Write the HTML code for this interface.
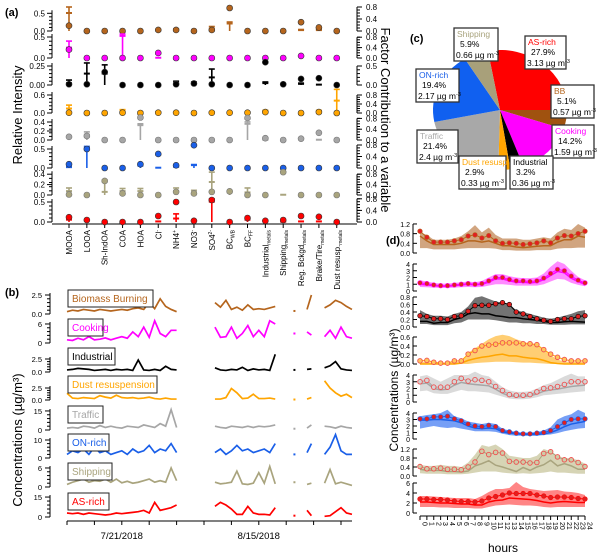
<!DOCTYPE html>
<html><head><meta charset="utf-8"><style>
html,body{margin:0;padding:0;background:#fff;}
svg{display:block;font-family:"Liberation Sans",sans-serif;}
</style></head><body>
<svg id="chart" width="600" height="559" viewBox="0 0 600 559" xmlns="http://www.w3.org/2000/svg"></svg>
<script>
// ---------- DATA ----------
const aCategories=['MOOA','LOOA','Sh-IndOA','COA','HOA','Cl','NH4','NO3','SO4','BC','BC','Industrial','Shipping','Reg. Bckgd','Brake/Tire','Dust resusp.'];
const aSubs=['','','','','','-','+','-','2-','WB','FF','metals','metals','metals','metals','metals'];
const factorNames=['Biomass Burning','Cooking','Industrial','Dust resuspension','Traffic','ON-rich','Shipping','AS-rich'];
const aDots=[
[0.15,0,0,0,0,0.03,0.03,0,0.03,0.65,0,0,0,0.25,0.1,0],
[0.2,0,0,0,0,0.12,0,0,0,0,0,0,0,0.05,0,0],
[0.01,0.01,0.17,0,0,0,0.01,0.02,0.01,0,0,0.3,0.01,0.08,0.09,0],
[0.01,0,0,0.01,0,0.01,0.01,0,0.01,0.01,0.01,0.03,0,0,0.03,0],
[0.07,0.09,0,0,0.5,0,0,0,0,0,0.49,0.04,0,0.03,0.16,0],
[0.1,0.5,0,0,0.1,0.37,0.07,0.6,0,0,0,0,0,0,0,0],
[0.01,0,0.27,0.03,0,0,0.06,0.03,0.06,0.07,0,0,0.44,0,0,0],
[0.12,0.05,0,0,0,0.15,0.5,0.03,0.55,0,0.1,0.03,0.05,0.15,0.13,0]];
const aErr=[
[0.8,0,0,0,0,0.05,0.07,0,0.15,0.3,0,0,0,0.05,0.05,0],
[0.65,0,0,0.92,0,0,0,0,0,0,0,0,0,0.08,0,0],
[0.13,0.58,0.53,0,0,0,0.1,0.08,0.42,0,0,0.08,0,0.05,0,0],
[0.35,0,0,0.15,0.05,0.05,0,0,0.05,0,0.05,0.12,0,0,0.12,1.05],
[0,0.3,0,0,0.6,0,0,0,0,0,0.67,0.02,0,0,0,0],
[0.05,0.75,0,0,0.1,0,0.05,0.12,0,0,0,0,0,0,0,0],
[0.27,0,0.58,0.25,0.25,0,0.27,0.18,0.88,0.15,0.27,0,0,0,0,0],
[0.12,0,0,0,0,0,0.28,0.05,0.8,0,0.12,0.04,0,0,0,0]];
const aContrib=[
[0.6,0,0,0,0,0.04,0.05,0,0.08,0.25,0,0,0,0.03,0.03,0],
[0.4,0,0,0.85,0,0.01,0,0,0,0,0,0,0,0.06,0,0],
[0.05,0.3,0.3,0,0,0,0.05,0.05,0.2,0,0,0.05,0,0.03,0.01,0],
[0.2,0,0,0.1,0.02,0.03,0,0,0.02,0,0.03,0.08,0,0,0.08,0.55],
[0,0.2,0,0,0.55,0,0,0,0,0,0.6,0.01,0,0,0.01,0],
[0.03,0.7,0,0,0.08,0.01,0.04,0.1,0,0,0,0,0,0,0,0],
[0.15,0,0.12,0.15,0.15,0,0.15,0.1,0.5,0.1,0.1,0,0.01,0,0,0],
[0.08,0,0,0,0,0.02,0.12,0.03,0.7,0,0.08,0.02,0.01,0.02,0.02,0]];
const aLeftTicks=[[0,0.5],[0,0.5],[0,0.25],[0,0.6],[0,0.2,0.4],[0,0.5],[0,0.2,0.4],[0,0.5]];
const aLeftTickLabels=[['0.0','0.5'],['0.0','0.5'],['0.00','0.25'],['0.0','0.6'],['0.0','0.2','0.4'],['0.0','0.5'],['0.0','0.2','0.4'],['0.0','0.5']];
const aRightTicks=[[0,0.4,0.8],[0,0.4,0.8],[0,0.5],[0,0.4,0.8],[0,0.4,0.8],[0,0.4,0.8],[0,0.4,0.8],[0,0.4,0.8]];

const tsDays=[0,1,2,3,4,5,6,7,8,9,10,11,12,13,14,15,16,17,18,19,20,27,28,29,30,31,32,33,34,35,36,37,38,41.5,43.8,44.6,47,48,49,50,51,52];
const tsBB=[0.3,0.5,0.4,0.6,0.5,0.4,0.6,0.5,0.4,0.5,0.6,0.5,0.7,0.8,0.6,1.5,0.7,2.0,1.0,0.6,0.3, 1.5,0.9,1.8,0.6,0.9,0.5,1.2,0.6,0.7,0.6,0.8,1.0, 0.4, 0.6,2.5, 0.8,1.2,1.8,1.5,1.0,0.6];
const tsCooking=[1,0.8,1.5,1,2,1,1.2,1.6,1,1.5,2,1.5,3.5,2,5,1.8,7,3,2,4,4, 5,1.8,2,5,1.5,3,5.5,2,4,2,7,6, 3, 3.5,2.5, 2,4,1.5,5,2,1.5];
const tsIndustrial=[0.4,0.5,0.7,0.6,0.5,0.3,0.4,0.5,0.3,0.5,0.4,0.5,0.3,2.3,0.4,0.3,0.5,0.3,1.1,0.5,0.4, 0.8,0.4,0.3,0.5,0.4,0.9,0.3,0.6,0.4,0.5,0.3,3.4, 0.4, 0.5,0.6, 0.8,1.2,2.0,0.6,0.4,0.3];
const tsDust=[1.4,0.4,0.3,0.5,0.4,0.3,0.9,0.6,0.4,1.0,0.5,0.4,0.5,0.3,0.4,0.6,0.3,0.2,0.4,0.2,0.2, 0.2,0.2,0.5,2.4,1.5,0.3,0.4,1.2,0.3,0.3,0.4,0.2, 0.1, 0.2,0.5, 4.0,2.5,1.5,0.8,1.2,0.5];
const tsTraffic=[1.5,2,1.5,3,2.5,1.5,3.5,2,3,2,1.5,3,2.5,2,4,3,2,5,3,16,2, 3,2,1.5,3,2.5,2,3,2,3,2.5,3,4, 1, 1.5,4, 3,2.5,1.5,3,2,1.5];
const tsON=[2,4,3,5,2,6,3,4,2,3,4,2,5,3,4,7,3,5,4,8,3, 3,5,2,4,7,4,5,3,4,5,3,8, 2, 3,8, 2,6,13,4,2,2];
const tsShipping=[0.8,1.5,2,2.5,1.5,2,1.8,2.5,1.5,2.5,1.3,1.8,1.2,1.5,2,2.5,1.5,2,1.5,6,2, 1.5,1,1.2,1.5,5,1,0.8,1.2,4.5,1.2,6.5,1, 1.5, 0.8,1.2, 1.2,5.5,1,1.5,1,0.5];
const tsAS=[3,2.5,3,2,3,2.5,2,1.5,2,3,2.5,3,3.5,4,5,3,11,5,6,7,9, 8,11,9,6,2,2,8,3,2,2,1.5,7, 1, 5,1, 0.5,1,4,7,3,2];
const tsTickLabels=[['0.0','2.5'],['0','6'],['0.0','2.5'],['0.0','2.5'],['0','15'],['0','10'],['0','6'],['0','15']];
const tsTicks=[[0,2.5],[0,6],[0,2.5],[0,2.5],[0,15],[0,10],[0,6],[0,15]];
const dateLabels=['7/21/2018','8/15/2018'];
const dateDays=[10,35];

const pieNames=['AS-rich','BB','Cooking','Industrial','Dust resusp.','Traffic','ON-rich','Shipping'];
const piePct=[27.9,5.1,14.2,3.2,2.9,21.4,19.4,5.9];
const pieConc=['3.13','0.57','1.59','0.36','0.33','2.4','2.17','0.66'];

const hours=[0,1,2,3,4,5,6,7,8,9,10,11,12,13,14,15,16,17,18,19,20,21,22,23,24];
const dMean=[
[0.9,0.65,0.45,0.45,0.45,0.5,0.55,0.7,0.75,0.62,0.72,0.5,0.4,0.42,0.4,0.35,0.38,0.42,0.5,0.42,0.62,0.72,0.7,0.8,0.9],
[1.2,1.1,0.9,0.8,0.8,0.9,1.0,1.1,1.0,1.1,1.5,2.0,2.0,1.7,1.5,1.5,1.4,1.5,1.9,2.6,3.2,3.0,2.2,1.6,1.2],
[0.3,0.28,0.22,0.22,0.2,0.28,0.3,0.42,0.57,0.58,0.58,0.62,0.65,0.6,0.4,0.35,0.28,0.22,0.18,0.15,0.2,0.22,0.22,0.28,0.3],
[0.07,0.08,0.04,0.02,0.02,0.07,0.07,0.22,0.3,0.4,0.42,0.44,0.47,0.47,0.47,0.45,0.45,0.43,0.32,0.22,0.15,0.1,0.07,0.07,0.07],
[3,3.2,2.2,2.2,2.2,3.0,3.5,3.1,3.3,3.2,3.0,2.3,1.7,1.1,1.0,1.0,1.1,1.5,2.0,2.1,2.3,2.6,3.0,3.0,3.0],
[3.1,3.1,3.4,3.4,3.5,3.1,2.8,2.3,2.0,1.9,2.1,1.9,1.3,1.1,0.9,0.8,0.8,0.9,1.0,1.3,1.9,2.5,3.0,3.1,3.1],
[0.42,0.32,0.32,0.35,0.3,0.3,0.28,0.4,0.62,1.1,0.95,1.05,1.02,0.65,0.62,0.62,0.58,0.6,1.0,1.08,0.85,0.72,0.72,0.6,0.42],
[2.8,2.8,2.7,2.7,2.6,2.4,2.3,2.3,2.2,2.4,3.0,3.3,3.6,4.0,3.9,3.9,3.9,3.6,3.4,3.1,3.2,3.2,3.1,2.9,2.8]];
const dMedian=[
[0.7,0.5,0.35,0.35,0.35,0.35,0.4,0.5,0.5,0.45,0.5,0.4,0.3,0.3,0.25,0.22,0.25,0.28,0.3,0.3,0.45,0.55,0.55,0.7,0.65],
[1.0,0.9,0.8,0.7,0.7,0.8,0.9,1.0,0.9,1.0,1.3,1.8,1.8,1.5,1.3,1.3,1.2,1.3,1.7,2.3,2.9,2.7,1.9,1.4,1.0],
[0.15,0.15,0.1,0.12,0.12,0.2,0.25,0.35,0.38,0.35,0.35,0.3,0.28,0.25,0.25,0.22,0.2,0.18,0.15,0.12,0.12,0.14,0.15,0.14,0.13],
[0,0,0,0,0,0,0.02,0.08,0.12,0.15,0.17,0.2,0.22,0.18,0.18,0.15,0.13,0.12,0.08,0.03,0.01,0,0,0,0],
[2.7,2.8,2.0,1.8,1.9,2.5,2.9,2.7,2.6,2.5,2.4,1.9,1.3,0.9,0.8,0.8,0.9,1.2,1.6,1.8,1.9,2.1,2.3,2.4,2.5],
[2.9,2.9,3.0,3.0,2.9,2.8,2.5,2.0,1.7,1.6,1.7,1.6,1.1,0.9,0.8,0.7,0.7,0.7,0.8,1.0,1.4,1.9,2.3,2.5,2.7],
[0.3,0.25,0.25,0.25,0.2,0.2,0.18,0.22,0.45,0.55,0.68,0.48,0.4,0.3,0.2,0.38,0.25,0.4,0.5,0.7,0.45,0.55,0.45,0.3,0.3],
[2.2,2.2,2.1,2.0,2.0,1.9,1.8,1.8,1.6,1.6,2.2,2.5,2.6,3.0,2.9,2.8,2.7,2.5,2.2,2.0,2.2,2.3,2.2,2.1,2.1]];
const dHi=[
[0.85,0.75,0.55,0.55,0.55,0.6,0.7,0.9,1.15,0.85,1.05,0.75,0.6,0.6,0.6,0.55,0.55,0.6,0.65,0.6,0.85,1.0,0.95,1.2,1.05],
[1.6,1.4,1.2,1.1,1.1,1.2,1.3,1.4,1.3,1.5,2.0,2.5,2.5,2.2,2.0,1.9,1.9,2.0,2.6,3.6,4.4,4.0,3.0,2.1,1.6],
[0.45,0.35,0.3,0.3,0.28,0.35,0.4,0.55,0.78,0.82,0.75,0.68,0.65,0.6,0.45,0.4,0.35,0.3,0.25,0.22,0.25,0.3,0.35,0.42,0.45],
[0.05,0.05,0.03,0.02,0.02,0.05,0.05,0.25,0.35,0.45,0.55,0.62,0.65,0.62,0.55,0.5,0.45,0.42,0.32,0.2,0.1,0.05,0.05,0.05,0.05],
[3.8,4,3.5,3,3.5,4,4,4,4.5,4,3.8,3,2.2,1.7,1.5,1.5,1.6,2,2.5,2.8,3.3,3.8,4.2,3.8,3.8],
[3.5,3.7,3.8,4,4.5,3.5,3.2,2.7,2.5,2.3,2.5,2.3,1.6,1.3,1.1,1.0,1.0,1.1,1.3,1.8,3,3.5,3.8,4.5,4],
[0.5,0.45,0.45,0.5,0.45,0.45,0.4,0.6,0.95,1.38,1.3,1.4,1.2,0.9,0.85,0.8,0.8,0.9,1.2,1.1,0.9,0.8,0.8,0.7,0.55],
[3.4,3.4,3.3,3.2,3.1,3.0,3.0,3.0,2.8,3.4,4.2,4.8,4.8,5,6.2,5.2,4.8,4.6,4.4,4.5,4.6,4.3,4.2,4.0,3.6]];
const dLo=[
[0.2,0.2,0.15,0.15,0.15,0.15,0.18,0.2,0.2,0.2,0.2,0.18,0.12,0.12,0.1,0.1,0.1,0.12,0.12,0.12,0.18,0.2,0.2,0.22,0.22],
[0.6,0.55,0.5,0.45,0.45,0.5,0.55,0.6,0.55,0.6,0.8,1.0,1.0,0.9,0.8,0.8,0.8,0.8,1.0,1.4,1.8,1.7,1.2,0.9,0.7],
[0.08,0.08,0.05,0.05,0.05,0.1,0.12,0.2,0.2,0.2,0.2,0.18,0.15,0.12,0.12,0.1,0.1,0.08,0.08,0.06,0.06,0.06,0.07,0.07,0.07],
[0,0,0,0,0,0,0,0,0.02,0.03,0.04,0.05,0.05,0.05,0.04,0.03,0.03,0.02,0.01,0,0,0,0,0,0],
[1.6,1.7,1.3,1.2,1.2,1.5,1.8,1.6,1.6,1.5,1.4,1.1,0.8,0.5,0.4,0.4,0.5,0.7,1,1.1,1.2,1.3,1.4,1.5,1.6],
[1.6,1.8,2,1.8,1.7,1.8,1.6,1.4,1.2,1.2,1.2,1.1,0.8,0.6,0.5,0.5,0.5,0.5,0.6,0.7,0.9,1.2,1.4,1.6,1.7],
[0.12,0.1,0.1,0.1,0.08,0.08,0.08,0.1,0.15,0.2,0.2,0.2,0.15,0.12,0.1,0.12,0.1,0.12,0.15,0.2,0.15,0.15,0.12,0.1,0.1],
[1.2,1.2,1.2,1.1,1.1,1.0,1.0,1.0,0.9,0.9,1.2,1.5,1.6,1.7,1.6,1.5,1.5,1.4,1.2,1.1,1.2,1.2,1.2,1.2,1.2]];
const dTicks=[[0,0.4,0.8,1.2],[0,1,2,3,4],[0,0.2,0.4,0.6,0.8],[0,0.2,0.4,0.6],[0,1,2,3,4],[0,1,2,3,4],[0,0.4,0.8,1.2],[0,2,4,6]];
const dTickLabels=[['0.0','0.4','0.8','1.2'],['0','1','2','3','4'],['0.0','0.2','0.4','0.6','0.8'],['0.0','0.2','0.4','0.6'],['0','1','2','3','4'],['0','1','2','3','4'],['0.0','0.4','0.8','1.2'],['0','2','4','6']];

// ---------- STYLE / LAYOUT ----------
const COL=['#b5651d','#ff00ff','#000000','#ffa500','#a6a6a6','#1a5fe8','#a9a47e','#ff0000'];
const BAND=['#c9956a','#ff77ff','#5a5a5a','#ffc65a','#d4d4d4','#5e8ef5','#cfcca8','#ff7070'];
const aRowY0=[31,58,85,113,140,168,195,222];
const aLeftPx=[35.4,42,76,30,45,38,52,40];
const aRightPx=[30,26,38,22.5,27,28.75,26,29];
const bRowY0=[314,343,372,400,430,458,487,517];
const bPx=[7.6,3.17,5.2,4.8,1.27,1.8,3.17,1.33];
const bBoxW=[85,35,47,89,35,41,44,41];
const dRowY0=[253,291,327,364,402,439,476,513];
const dPx=[24.2,6.75,37.5,45,6.75,6.5,22.5,5];
const tsAll=[tsBB,tsCooking,tsIndustrial,tsDust,tsTraffic,tsON,tsShipping,tsAS];

const NS='http://www.w3.org/2000/svg';
const svg=document.getElementById('chart');
function mk(tag,attrs,parent){const e=document.createElementNS(NS,tag);for(const k in attrs)e.setAttribute(k,attrs[k]);(parent||svg).appendChild(e);return e;}
function txt(x,y,s,size,anchor,fill,rot,weight){const e=mk('text',{x:x,y:y,'font-size':size,'text-anchor':anchor||'start',fill:fill||'#000'});if(weight)e.setAttribute('font-weight',weight);if(rot)e.setAttribute('transform','rotate('+rot+' '+x+' '+y+')');e.textContent=s;return e;}
function line(x1,y1,x2,y2,c,w){return mk('line',{x1:x1,y1:y1,x2:x2,y2:y2,stroke:c||'#000','stroke-width':w||1});}

// ---------- PANEL A ----------
const catX=i=>69+i*17.85;
let t=txt(5,16,'(a)',11,'start','#000',0,'bold');


t=txt(22,115,'Relative Intensity',13,'middle','#000',-90);


t=txt(381,120,'Factor Contribution to a variable',13,'middle','#000',90);


let ax=line(52,224,357,224,'#000',1);


for(let i=0;i<aCategories.length;i++){
  const x=catX(i);
  const tk=line(x,224,x,228);
  
  
  const lb=mk('text',{x:x+3,y:230,'font-size':8,'text-anchor':'end',transform:'rotate(-90 '+(x+3)+' 230)'});
  
  
  lb.appendChild(document.createTextNode(aCategories[i]));
  if(aSubs[i]){const sp=mk('tspan',{'font-size':5,dy:(i>=5&&i<=8)?-3:2},lb);sp.textContent=aSubs[i];}
}
for(let r=0;r<8;r++){
  const y0=aRowY0[r],lp=aLeftPx[r],rp=aRightPx[r];
  const lt=aLeftTicks[r],rt=aRightTicks[r];
  const top=y0-lt[lt.length-1]*lp;
  const la=line(52,y0,52,top-3);
  
  
  for(let k=0;k<lt.length;k++){
    const y=y0-lt[k]*lp;
    line(47,y,52,y);
    const l=txt(45,y+3,aLeftTickLabels[r][k],8,'end');
    
    
  }
  const step=lt[lt.length-1]/5;
  for(let v=step;v<lt[lt.length-1];v+=step){const y=y0-v*lp;line(49,y,52,y);}
  const rtop=y0-rt[rt.length-1]*rp;
  const ra=line(357,y0,357,rtop);
  
  
  for(let k=0;k<rt.length;k++){
    const y=y0-rt[k]*rp;
    line(357,y,362,y);
    const l=txt(366,y+3,rt[k].toFixed(1),8,'start');
    
    
  }
  for(let v=0.1;v<rt[rt.length-1];v+=0.1){const y=y0-v*rp;line(357,y,360,y);}
  for(let i=0;i<16;i++){
    const x=catX(i);
    const e=aErr[r][i],c=aContrib[r][i];
    if(e>0){
      const bl=line(x,y0,x,y0-e*rp,COL[r],1.6);
      
      
      line(x-3,y0-e*rp,x+3,y0-e*rp,COL[r],1.6);
    }
    if(c>0){
      const m=line(x-3,y0-c*rp,x+3,y0-c*rp,COL[r],2);
      
      
    }
    const d=mk('circle',{cx:x,cy:y0-aDots[r][i]*lp,r:3,fill:COL[r],stroke:(r===4||r===6)?'#777':'#333','stroke-width':0.6});
    
    
  }
}

// ---------- PANEL B ----------
const dayX=d=>67+d*5.48;
t=txt(5,296,'(b)',11,'start','#000',0,'bold');


t=txt(22,440,'Concentrations (µg/m³)',13,'middle','#000',-90);


ax=line(67,521,352,521);


for(let d=0;d<=52;d+=5){const tk=line(dayX(d),521,dayX(d),525);}
for(let k=0;k<dateLabels.length;k++){
  const l=txt(dayX(dateDays[k]),539,dateLabels[k],9.5,'middle');
  
  
}
for(let r=0;r<8;r++){
  const y0=bRowY0[r],px=bPx[r];
  const tks=tsTicks[r];
  const top=y0-tks[1]*px;
  const ya=line(50,y0,50,top-2);
  
  
  for(let k=0;k<tks.length;k++){
    const y=y0-tks[k]*px;line(45,y,50,y);
    const l=txt(42,y+3,tsTickLabels[r][k],7.5,'end');
    
    
  }
  for(let k=1;k<5;k++){const y=y0-(tks[1]/5)*k*px;line(47,y,50,y);}
  const vals=tsAll[r];
  let segs=[],cur=[];
  for(let i=0;i<tsDays.length;i++){
    if(i>0&&tsDays[i]-tsDays[i-1]>1.5){segs.push(cur);cur=[];}
    cur.push([dayX(tsDays[i]),y0-vals[i]*px]);
  }
  segs.push(cur);
  segs.forEach(s=>{
    if(s.length===1){
      const p=line(s[0][0],s[0][1]+1,s[0][0],s[0][1]-1,COL[r],2);
      
      
    } else {
      const pl=mk('polyline',{points:s.map(p=>p.join(',')).join(' '),fill:'none',stroke:COL[r],'stroke-width':1.7});
      
      
    }
  });
  const bx=mk('rect',{x:68,y:y0-24,width:bBoxW[r],height:17,fill:'#fff',stroke:'#222','stroke-width':1});
  
  
  const bl=txt(72,y0-12,factorNames[r],10,'start',COL[r]);
  
  
}

// ---------- PANEL C (pie) ----------
t=txt(410,42,'(c)',11,'start','#000',0,'bold');


const PCOL=['#ff0000','#a0520f','#ff00ff','#000000','#ffa500','#a8a8a8','#1060f0','#a8a07a'];
const cx=500,cy=110,rx=67,ry=60;
let ang=-10.4;
for(let i=0;i<piePct.length;i++){
  const a0=ang*Math.PI/180,span=piePct[i]/100*360,a1=(ang+span)*Math.PI/180;
  const x0=cx+rx*Math.sin(a0),y0=cy-ry*Math.cos(a0),x1=cx+rx*Math.sin(a1),y1=cy-ry*Math.cos(a1);
  const p=mk('path',{d:`M${cx},${cy} L${x0},${y0} A${rx},${ry} 0 ${span>180?1:0} 1 ${x1},${y1} Z`,fill:PCOL[i]});
  
  
  ang+=span;
}
const boxPos=[[525,36,41],[551,85,43],[552,125,42],[510,156,43],[459,156,47],[417,130,41],[416,69,43],[454,28,44]];
const boxCol=['#ff0000','#b5651d','#ff00ff','#000','#ffa500','#aaaaaa','#1a5fe8','#a9a47e'];
for(let i=0;i<pieNames.length;i++){
  const [bx,by,bw]=boxPos[i];
  const g=mk('g',{});
  
  
  mk('rect',{x:bx,y:by,width:bw,height:33,fill:'#fff',stroke:'#333','stroke-width':1.3},g);
  const a=mk('text',{x:bx+3,y:by+9,'font-size':8.5,fill:boxCol[i]},g);a.textContent=pieNames[i];
  const b=mk('text',{x:bx+6,y:by+19,'font-size':8.5},g);b.textContent=piePct[i].toFixed(1)+'%';
  const c=mk('text',{x:bx+2,y:by+30,'font-size':8.5},g);c.textContent=pieConc[i]+' µg m';
  const s=mk('tspan',{'font-size':5.5,dy:-3},c);s.textContent='-3';
}

// ---------- PANEL D ----------
const hx=h=>420+h*6.875;
t=txt(386,244,'(d)',11,'start','#000',0,'bold');


t=txt(398,390,'Concentrations (µg/m³)',12,'middle','#000',-90);


for(let r=0;r<8;r++){
  const y0=dRowY0[r],px=dPx[r],tk=dTicks[r];
  const top=y0-tk[tk.length-1]*px;
  const ya=line(413,y0,413,top);
  
  
  for(let k=0;k<tk.length;k++){
    const y=y0-tk[k]*px;line(413,y,417,y);
    const l=txt(410,y+3,dTickLabels[r][k],7,'end');
    
    
  }
  const up=hours.map((h,i)=>hx(h)+','+(y0-dHi[r][i]*px));
  const dn=hours.map((h,i)=>hx(h)+','+(y0-dLo[r][i]*px)).reverse();
  const band=mk('polygon',{points:up.concat(dn).join(' '),fill:BAND[r],opacity:0.85});
  
  
  const med=mk('polyline',{points:hours.map((h,i)=>hx(h)+','+(y0-dMedian[r][i]*px)).join(' '),fill:'none',stroke:COL[r],'stroke-width':1.5});
  
  
  const mn=mk('polyline',{points:hours.map((h,i)=>hx(h)+','+(y0-dMean[r][i]*px)).join(' '),fill:'none',stroke:COL[r],'stroke-width':1});
  
  
  const hollow=(r===3||r===4||r===6);
  for(let i=0;i<hours.length;i++){
    const c=mk('circle',{cx:hx(hours[i]),cy:y0-dMean[r][i]*px,r:2.3,fill:hollow?BAND[r]:'#e02020',stroke:hollow?'#f05050':COL[r],'stroke-width':hollow?0.9:0.6});
    
    
  }
}
ax=line(420,516,585,516);


for(let h=0;h<=24;h++){
  line(hx(h),516,hx(h),520);
  const l=txt(hx(h)+2.5,522,String(h),7,'start','#000',90);
  
  
}
t=txt(503,552,'hours',12,'middle');


</script>
</body></html>
